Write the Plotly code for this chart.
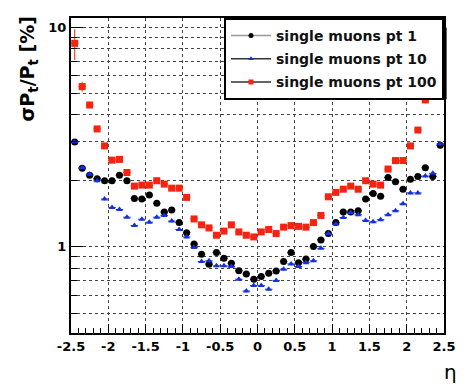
import plotly.graph_objects as go

eta = [-2.45, -2.35, -2.25, -2.15, -2.05, -1.95, -1.85, -1.75, -1.65, -1.55,
       -1.45, -1.35, -1.25, -1.15, -1.05, -0.95, -0.85, -0.75, -0.65, -0.55,
       -0.45, -0.35, -0.25, -0.15, -0.05, 0.05, 0.15, 0.25, 0.35, 0.45,
       0.55, 0.65, 0.75, 0.85, 0.95, 1.05, 1.15, 1.25, 1.35, 1.45,
       1.55, 1.65, 1.75, 1.85, 1.95, 2.05, 2.15, 2.25, 2.35, 2.45]

pt1 = [3.0, 2.28, 2.12, 2.04, 2.0, 2.0, 2.12, 2.0, 1.66, 1.65,
       1.72, 1.58, 1.44, 1.47, 1.29, 1.16, 1.03, 0.927, 0.835, 0.942,
       0.889, 0.843, 0.78, 0.754, 0.713, 0.733, 0.759, 0.778, 0.858, 0.942,
       0.848, 0.88, 1.003, 1.076, 1.15, 1.29, 1.44, 1.44, 1.46, 1.65,
       1.75, 1.70, 2.07, 1.98, 1.83, 2.03, 2.09, 2.29, 2.09, 2.9]

pt10 = [3.01, 2.29, 2.14, 2.0, 1.65, 1.51, 1.48, 1.365, 1.25, 1.336,
        1.295, 1.365, 1.39, 1.31, 1.20, 1.11, 0.993, 0.858, 0.864, 0.82,
        0.82, 0.814, 0.713, 0.63, 0.667, 0.667, 0.642, 0.703, 0.792, 0.837,
        0.814, 0.848, 0.864, 0.986, 1.15, 1.27, 1.36, 1.43, 1.40, 1.32,
        1.30, 1.33, 1.40, 1.46, 1.57, 1.76, 1.76, 2.10, 2.16, 2.94]

pt100 = [8.43, 5.36, 4.42, 3.44, 2.88, 2.48, 2.50, 2.18, 1.89, 1.91,
         1.91, 2.0, 1.93, 1.85, 1.85, 1.68, 1.34, 1.26, 1.22, 1.13,
         1.18, 1.26, 1.17, 1.13, 1.11, 1.17, 1.20, 1.15, 1.23, 1.25,
         1.24, 1.23, 1.29, 1.39, 1.69, 1.77, 1.83, 1.89, 1.83, 2.0,
         1.93, 1.91, 2.26, 2.47, 2.47, 2.88, 3.40, 4.66, 5.5, 8.2]

pt100_err = [1.35, 0.28, 0.15, 0.1, 0.08, 0.06, 0.06, 0.05, 0.04, 0.04,
             0.04, 0.04, 0.04, 0.04, 0.04, 0.03, 0.03, 0.03, 0.03, 0.03,
             0.03, 0.03, 0.03, 0.03, 0.03, 0.03, 0.03, 0.03, 0.03, 0.03,
             0.03, 0.03, 0.03, 0.03, 0.03, 0.04, 0.04, 0.04, 0.04, 0.04,
             0.04, 0.04, 0.05, 0.06, 0.06, 0.08, 0.1, 0.15, 0.28, 1.3]

bin_half_width = [0.05] * len(eta)

names = ["single muons pt 1", "single muons pt 10", "single muons pt 100"]
y_ticks = [1, 10]
y_minor = [0.5, 0.6, 0.7, 0.8, 0.9, 2, 3, 4, 5, 6, 7, 8, 9]
x_ticks = [-2.5, -2, -1.5, -1, -0.5, 0, 0.5, 1, 1.5, 2, 2.5]
x_labels = ["-2.5", "-2", "-1.5", "-1", "-0.5", "0", "0.5", "1", "1.5", "2", "2.5"]

BLACK = "#000000"
BLUE = "#1530e0"
RED = "#f5230f"
FONT = "DejaVu Sans"

fig = go.Figure()

series = [
    (pt1, BLACK, "circle", 7, dict(type="percent", value=1.5)),
    (pt10, BLUE, "triangle-up", 6, dict(type="percent", value=1.5)),
    (pt100, RED, "square", 7, dict(type="data", array=pt100_err)),
]

for (vals, col, sym, size, ey) in series:
    ey = dict(ey, color=col, thickness=1, width=0, visible=True)
    fig.add_trace(go.Scatter(
        x=eta, y=vals, mode="markers", showlegend=False,
        marker=dict(color=col, symbol=sym, size=size, line=dict(width=0)),
        error_x=dict(type="data", array=bin_half_width, color=col, thickness=1, width=0),
        error_y=ey,
    ))

legend_line_cols = ["#9a9a9a", "#333333", "#333333"]
for i, (vals, col, sym, size, ey) in enumerate(series):
    fig.add_trace(go.Scatter(
        x=[None], y=[None], mode="lines+markers", name=names[i],
        legendgroup=names[i],
        marker=dict(color=col, symbol=sym, size=5),
        line=dict(color=legend_line_cols[i], width=1.5),
    ))

fig.update_layout(
    width=468, height=390,
    margin=dict(l=71, r=13, t=18, b=57),
    paper_bgcolor="white", plot_bgcolor="white",
    font=dict(family=FONT, color="black"),
    legend=dict(
        x=1, y=1, xanchor="right", yanchor="top",
        bgcolor="white", bordercolor="black", borderwidth=2,
        font=dict(family=FONT, size=14, color="#111111", weight="bold"),
        tracegroupgap=2, itemwidth=40,
    ),
    xaxis=dict(
        range=[-2.5, 2.5], showline=True, linecolor="black", linewidth=2, mirror=True,
        tickmode="array", tickvals=x_ticks, ticktext=x_labels,
        ticks="inside", ticklen=9, tickwidth=1, tickcolor="black",
        tickfont=dict(family=FONT, size=13, weight="bold"),
        showgrid=True, gridcolor="#444444", griddash="dot", gridwidth=1,
        minor=dict(dtick=0.1, tick0=0, ticks="inside", ticklen=5, tickcolor="black", showgrid=False),
        zeroline=False,
    ),
    yaxis=dict(
        type="log", range=[-0.3915, 1.041], showline=True, linecolor="black", linewidth=2, mirror=True,
        tickmode="array", tickvals=y_ticks, ticktext=["1", "10"],
        ticks="inside", ticklen=12, tickwidth=1, tickcolor="black",
        tickfont=dict(family=FONT, size=13, weight="bold"),
        showgrid=True, gridcolor="#444444", griddash="dot", gridwidth=1,
        minor=dict(tickmode="array", tickvals=y_minor, ticks="inside", ticklen=6, tickcolor="black",
                   showgrid=True, gridcolor="#444444", griddash="dot", gridwidth=1),
        zeroline=False,
    ),
    shapes=[
        # legend drop shadow (ROOT style)
        dict(type="rect", xref="paper", yref="paper", x0=0.42, x1=1.007, y0=0.742, y1=0.97,
             fillcolor="black", line=dict(width=0), layer="above"),
    ],
    annotations=[
        dict(text="σP<sub>t</sub>/P<sub>t</sub> [%]", xref="paper", yref="paper",
             x=-0.115, y=1.01, xanchor="center", yanchor="top", textangle=-90, showarrow=False,
             font=dict(family=FONT, size=19, color="black", weight="bold")),
        dict(text="η", xref="paper", yref="paper", x=1.018, y=-0.125,
             xanchor="center", yanchor="middle", showarrow=False,
             font=dict(family=FONT, size=20, color="black")),
    ],
)

fig.write_html("out.html", config={"displayModeBar": False},
               post_script="document.body.style.margin='0';document.body.style.overflow='hidden';")
